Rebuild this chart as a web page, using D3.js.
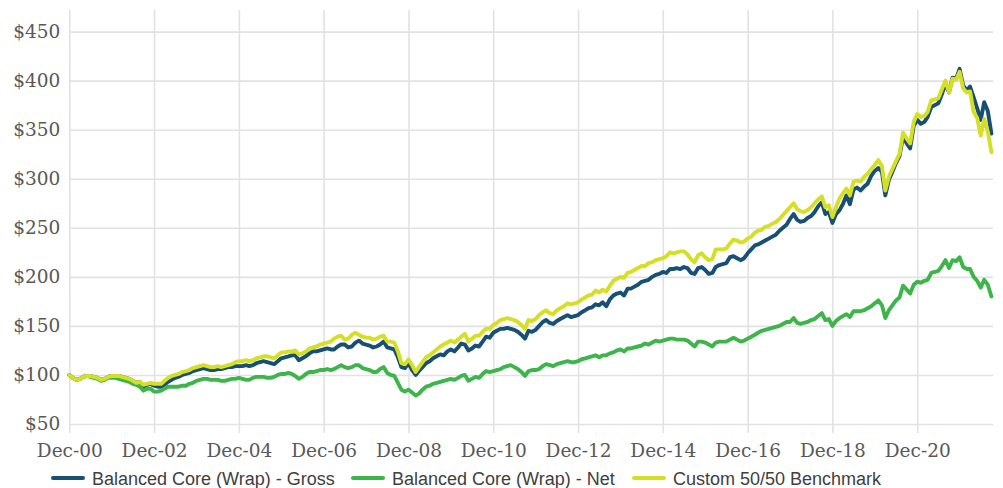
<!DOCTYPE html>
<html>
<head>
<meta charset="utf-8">
<script src="https://cdn.jsdelivr.net/npm/d3@7"></script>
<style>
  html, body { margin: 0; padding: 0; background: #ffffff; }
  svg { display: block; }
</style>
</head>
<body>
<svg id="chart" width="1003" height="488"></svg>
<script>
// Growth of $100, month-end values from Dec 2000 to Sep 2022
const startMonth = new Date(2000, 11, 1);

const gross = [100,
  97,95,96,98,99,99,98,97,95,96,98,99,
  99,99,98,97,96,94,92,93,88,90,91,89,
  88,88,90,93,95,97,98,100,101,102,104,105,
  106,107,106,105,105,106,106,107,108,108,109,109,
  109,110,109,110,112,113,114,113,112,111,114,117,
  118,119,120,120,115,117,119,122,124,124,125,126,
  127,126,126,129,131,131,128,129,133,135,132,131,
  130,128,129,131,134,128,127,126,118,108,107,112,
  105,100,104,108,112,114,117,119,121,120,124,126,
  124,128,132,131,125,127,130,129,134,139,138,143,
  145,147,147,148,147,146,144,141,137,145,144,146,
  150,154,156,153,152,155,157,159,161,159,160,161,
  164,166,168,169,172,171,174,170,177,181,183,184,
  181,188,188,190,192,195,196,197,200,202,203,205,
  204,208,208,209,208,210,209,204,203,209,210,207,
  203,204,210,212,213,214,220,221,219,217,219,224,
  228,232,233,235,237,239,241,243,247,250,253,259,
  264,258,256,257,260,262,266,272,276,264,266,255,
  264,268,274,283,274,289,291,288,292,295,303,308,
  311,307,283,299,307,316,323,343,336,331,354,360,
  356,358,363,373,375,377,386,397,388,403,402,412,
  395,390,394,383,372,360,378,369,346];

const net = [100,
  97,95,96,98,99,98,97,96,94,95,97,97,
  97,96,95,94,93,91,90,88,84,86,86,83,
  83,84,86,88,88,88,88,89,89,91,92,94,
  95,96,96,95,95,95,94,94,95,96,96,97,
  96,95,95,97,98,98,98,97,97,98,100,101,
  101,102,101,99,96,98,101,103,103,104,105,105,
  106,105,106,108,110,108,107,108,110,110,107,106,
  105,103,103,106,108,102,100,99,92,85,83,85,
  82,79,81,85,88,89,91,92,93,94,95,96,
  95,97,99,100,94,96,98,97,101,104,103,104,
  105,106,108,109,110,108,106,103,99,104,105,105,
  106,109,111,110,109,111,112,113,114,113,113,114,
  116,117,118,119,120,118,120,120,122,123,125,126,
  124,127,127,128,129,130,132,131,133,135,134,135,
  136,137,137,136,136,136,135,132,129,134,134,133,
  131,129,133,134,134,134,136,138,136,134,135,137,
  139,141,143,145,146,147,148,149,150,152,154,154,
  158,153,152,153,154,156,157,160,163,156,157,150,
  155,158,160,162,159,165,165,165,166,168,170,173,
  176,171,158,166,171,176,179,191,187,183,192,195,
  194,196,197,204,205,206,211,217,209,217,216,220,
  210,208,208,200,196,189,197,192,180];

const benchmark = [100,
  97,95,96,98,99,99,98,97,95,96,98,99,
  99,99,98,97,96,94,92,93,90,91,92,91,
  91,91,94,97,99,100,101,103,104,105,107,108,
  109,110,109,108,108,109,108,109,110,111,113,114,
  114,115,114,115,117,118,119,119,118,117,120,123,
  123,124,124,125,121,122,124,127,128,129,131,132,
  133,134,137,139,140,136,137,141,143,141,139,138,
  138,136,137,139,140,134,134,133,124,112,111,116,
  110,103,108,113,118,120,123,126,129,131,133,135,
  133,136,139,142,134,137,140,140,144,147,147,151,
  153,156,157,158,157,156,154,151,147,156,155,157,
  161,164,166,163,162,166,168,170,173,172,173,174,
  177,179,181,182,186,184,187,185,191,196,198,200,
  199,204,205,207,209,211,211,214,215,217,218,219,
  221,225,224,225,226,226,223,218,215,222,224,220,
  217,218,228,228,228,229,234,238,237,235,236,239,
  241,245,247,248,251,252,254,256,259,263,267,271,
  275,269,267,266,268,271,275,279,282,271,273,261,
  271,280,285,290,283,297,298,297,302,305,310,314,
  319,313,288,302,310,318,325,347,341,336,358,366,
  363,364,368,380,381,382,391,400,388,402,401,409,
  392,388,389,368,362,344,361,348,327];

const seriesNames = ["Balanced Core (Wrap) - Gross", "Balanced Core (Wrap) - Net", "Custom 50/50 Benchmark"];
const seriesColors = ["#174f75", "#3db54a", "#d5df24"];

const xTickLabels = ["Dec-00","Dec-02","Dec-04","Dec-06","Dec-08","Dec-10","Dec-12","Dec-14","Dec-16","Dec-18","Dec-20"];
const yTickValues = [50,100,150,200,250,300,350,400,450];

// month axis for each data point
const months = gross.map((_, i) => d3.timeMonth.offset(startMonth, i));
const parseTick = d3.timeParse("%b-%y");
const xTickDates = xTickLabels.map(s => parseTick(s));

const svg = d3.select("#chart");
const plotLeft = 69.3, plotRight = 993, plotTop = 10, plotBottom = 433;

const x = d3.scaleTime()
  .domain([months[0], months[months.length - 1]])
  .range([plotLeft, 991.4]);

const y = d3.scaleLinear()
  .domain([50, 450])
  .range([424, 31.6]);

svg.append("rect").attr("width", 1003).attr("height", 488).attr("fill", "#ffffff");

// horizontal grid + $ labels
const yAxis = svg.append("g")
  .attr("transform", `translate(${plotLeft},0)`)
  .call(d3.axisLeft(y)
    .tickValues(yTickValues)
    .tickFormat(d => "$" + d)
    .tickSize(-(plotRight - plotLeft))
    .tickPadding(9));
yAxis.select(".domain").remove();
yAxis.selectAll(".tick line").attr("stroke", "#e2e2e2").attr("stroke-width", 1.6);
yAxis.selectAll(".tick text")
  .attr("fill", "#595959")
  .style("font-family", "'DejaVu Serif', serif")
  .style("font-size", "18.5px");

// vertical grid + date labels
const xAxis = svg.append("g")
  .attr("transform", `translate(0,${plotBottom})`)
  .call(d3.axisBottom(x)
    .tickValues(xTickDates)
    .tickFormat(d3.timeFormat("%b-%y"))
    .tickSize(-(plotBottom - plotTop))
    .tickPadding(11));
xAxis.select(".domain").remove();
xAxis.selectAll(".tick line").attr("stroke", "#e2e2e2").attr("stroke-width", 1.6);
xAxis.selectAll(".tick text")
  .attr("fill", "#595959")
  .style("font-family", "'DejaVu Serif', serif")
  .style("font-size", "18.5px");

// series lines
const line = d3.line()
  .x((d, i) => x(months[i]))
  .y(d => y(d));

[gross, net, benchmark].forEach((values, k) => {
  svg.append("path")
    .datum(values)
    .attr("fill", "none")
    .attr("stroke", seriesColors[k])
    .attr("stroke-width", 3.9)
    .attr("stroke-linejoin", "round")
    .attr("stroke-linecap", "round")
    .attr("d", line);
});

// legend
const legendX = [52, 352, 633];
const legend = svg.append("g");
seriesNames.forEach((name, k) => {
  const g = legend.append("g").attr("transform", `translate(${legendX[k]},478)`);
  g.append("line")
    .attr("x1", 1).attr("x2", 31)
    .attr("stroke", seriesColors[k])
    .attr("stroke-width", 4)
    .attr("stroke-linecap", "round");
  g.append("text")
    .attr("x", 40).attr("y", 6.5)
    .attr("fill", "#404040")
    .style("font-family", "'Liberation Sans', Arial, sans-serif")
    .style("font-size", "18px")
    .text(name);
});
</script>
</body>
</html>
